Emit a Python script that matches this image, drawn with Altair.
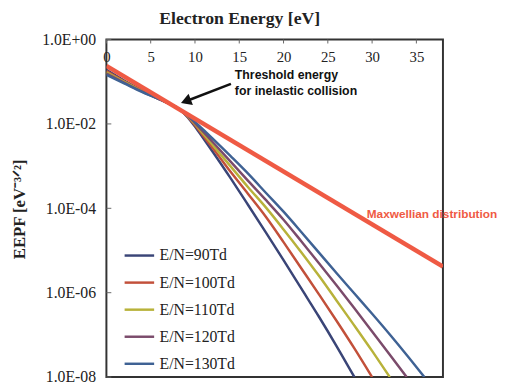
import altair as alt
import pandas as pd

# ---------------- data ----------------
series_names = ["E/N=90Td", "E/N=100Td", "E/N=110Td", "E/N=120Td", "E/N=130Td"]
series_colors = ["#3a4577", "#c2503a", "#b8b23a", "#7b4b6b", "#3f6294"]

energy_90 = [0, 2, 4, 6, 8, 9, 10, 11, 12, 14, 16, 18, 20, 22, 24, 26, 28]
eepf_90 = [0.191, 0.107, 0.0631, 0.0398, 0.0240, 0.0158, 0.00871, 0.00437, 0.00219,
           5.25e-4, 1.20e-4, 2.69e-5, 5.89e-6, 1.26e-6, 2.69e-7, 5.37e-8, 1.0e-8]

energy_100 = [0, 2, 4, 6, 8, 9, 10, 11, 12, 14, 16, 18, 20, 22, 24, 26, 28, 30]
eepf_100 = [0.178, 0.102, 0.0617, 0.0389, 0.0240, 0.0162, 0.00933, 0.00501, 0.00269,
            7.41e-4, 2.19e-4, 6.31e-5, 1.58e-5, 3.80e-6, 9.12e-7, 2.14e-7, 4.79e-8, 1.0e-8]

energy_110 = [0, 2, 4, 6, 8, 9, 10, 11, 12, 14, 16, 18, 20, 22, 24, 26, 28, 30, 32]
eepf_110 = [0.166, 0.100, 0.0603, 0.0389, 0.0240, 0.0166, 0.0100, 0.00562, 0.00316,
            1.0e-3, 3.16e-4, 1.05e-4, 3.16e-5, 9.12e-6, 2.51e-6, 6.46e-7, 1.66e-7, 4.17e-8, 1.0e-8]

energy_120 = [0, 2, 4, 6, 8, 9, 10, 11, 12, 14, 16, 18, 20, 22, 24, 26, 28, 30, 32, 33.9]
eepf_120 = [0.155, 0.0955, 0.0589, 0.0380, 0.0240, 0.0170, 0.0105, 0.00631, 0.00372,
            1.29e-3, 4.47e-4, 1.58e-4, 5.37e-5, 1.66e-5, 5.01e-6, 1.48e-6, 4.27e-7, 1.20e-7,
            3.39e-8, 1.0e-8]

energy_130 = [0, 2, 4, 6, 8, 9, 10, 11, 12, 14, 16, 18, 20, 22, 24, 26, 28, 30, 32, 34, 35.9]
eepf_130 = [0.145, 0.0912, 0.0575, 0.0380, 0.0240, 0.0174, 0.0112, 0.00708, 0.00447,
            1.74e-3, 6.61e-4, 2.34e-4, 8.32e-5, 2.75e-5, 8.91e-6, 2.88e-6, 9.55e-7, 3.16e-7,
            1.02e-7, 3.16e-8, 1.0e-8]

maxwell_energy = [0, 38]
maxwell_eepf = [0.237, 4.17e-6]
maxwell_label = "Maxwellian distribution"
maxwell_label_pos = [29.4, 7.2e-5]

threshold_lines = ["Threshold energy", "for inelastic collision"]
threshold_x = [14.5, 14.5]
threshold_y = [0.145, 0.059]
arrow_tail = [14.06, 0.089]
arrow_head = [8.97, 0.0345]

x_ticks = [0, 5, 10, 15, 20, 25, 30, 35]
y_ticks = [1, 1e-2, 1e-4, 1e-6, 1e-8]
y_tick_labels = ["1.0E+00", "1.0E-02", "1.0E-04", "1.0E-06", "1.0E-08"]

# ---------------- tables ----------------
rows = []
for name, es, vs in zip(series_names,
                        [energy_90, energy_100, energy_110, energy_120, energy_130],
                        [eepf_90, eepf_100, eepf_110, eepf_120, eepf_130]):
    for i, (e, v) in enumerate(zip(es, vs)):
        rows.append({"series": name, "energy": e, "eepf": v, "order": i})
curves_df = pd.DataFrame(rows)
maxwell_df = pd.DataFrame({"energy": maxwell_energy, "eepf": maxwell_eepf})

label_expr = ""
for v, lab in zip(y_ticks, y_tick_labels):
    label_expr += f"abs(log(datum.value) - log({v})) < 0.01 ? '{lab}' : "
label_expr += "''"

x_scale = alt.Scale(domain=[0, 38], nice=False, zero=False)
y_scale = alt.Scale(type="log", domain=[1e-8, 1], nice=False)

serif = "Liberation Serif"
sans = "Liberation Sans"

x_axis = alt.Axis(orient="top", values=x_ticks, title="Electron Energy [eV]",
                  titleFont=serif, titleFontSize=18, titleFontWeight="bold", titleColor="#222",
                  titleX=135, titleY=-21, titleAlign="center", titleBaseline="middle",
                  titleAnchor="start",
                  labelFont=serif, labelFontSize=15, labelColor="#222",
                  labelPadding=-17, labelBaseline="middle", labelFlush=False, labelOverlap=False,
                  ticks=False, tickSize=0, domain=False, grid=False)
y_axis = alt.Axis(values=y_ticks, labelExpr=label_expr, title="EEPF [eV⁻³ᐟ²]",
                  titleFont=serif, titleFontSize=17, titleFontWeight="bold", titleColor="#222",
                  titleX=-88, titleY=172, titleAlign="center", titleBaseline="middle",
                  titleAnchor="start",
                  labelFont=serif, labelFontSize=16, labelColor="#222",
                  labelPadding=11, labelFlush=False, labelOverlap=False,
                  ticks=False, tickSize=0, domain=False, grid=False)

curves = alt.Chart(curves_df).mark_line(strokeWidth=2.5, interpolate="monotone", clip=True).encode(
    x=alt.X("energy:Q", scale=x_scale, axis=x_axis),
    y=alt.Y("eepf:Q", scale=y_scale, axis=y_axis),
    color=alt.Color("series:N", scale=alt.Scale(domain=series_names, range=series_colors),
                    legend=alt.Legend(orient="none", legendX=17, legendY=203, title=None,
                                      symbolType="stroke", symbolSize=900, symbolStrokeWidth=2.5,
                                      labelFont=serif, labelFontSize=16, labelColor="#222",
                                      rowPadding=2.5, padding=0, labelOffset=4)),
    order="order:Q",
    detail="series:N",
)

maxwell = alt.Chart(maxwell_df).mark_line(strokeWidth=4.5, color="#ef5a44", clip=True).encode(
    x=alt.X("energy:Q", scale=x_scale),
    y=alt.Y("eepf:Q", scale=y_scale),
)

maxwell_text = alt.Chart(pd.DataFrame({"x": [maxwell_label_pos[0]], "y": [maxwell_label_pos[1]],
                                       "t": [maxwell_label]})).mark_text(
    align="left", baseline="middle", font=sans, fontSize=12, fontWeight="bold", color="#ef5a44"
).encode(x=alt.X("x:Q", scale=x_scale), y=alt.Y("y:Q", scale=y_scale), text="t:N")

thr_text = alt.Chart(pd.DataFrame({"x": threshold_x, "y": threshold_y, "t": threshold_lines})).mark_text(
    align="left", baseline="middle", font=sans, fontSize=12.5, fontWeight="bold", color="#111"
).encode(x=alt.X("x:Q", scale=x_scale), y=alt.Y("y:Q", scale=y_scale), text="t:N")

arrow_line = alt.Chart(pd.DataFrame({"x": [arrow_tail[0]], "y": [arrow_tail[1]],
                                     "x2": [arrow_head[0]], "y2": [arrow_head[1]]})).mark_rule(
    strokeWidth=2.5, color="#111"
).encode(x=alt.X("x:Q", scale=x_scale), y=alt.Y("y:Q", scale=y_scale), x2="x2:Q", y2="y2:Q")

arrow_tip = alt.Chart(pd.DataFrame({"x": [arrow_head[0]], "y": [arrow_head[1]]})).mark_point(
    shape="triangle-up", size=150, filled=True, color="#111", opacity=1, angle=249
).encode(x=alt.X("x:Q", scale=x_scale), y=alt.Y("y:Q", scale=y_scale))

y_tick_marks = alt.Chart(pd.DataFrame({"v": y_ticks})).mark_rule(color="#666", strokeWidth=1).encode(
    y=alt.Y("v:Q", scale=y_scale), x=alt.value(0), x2=alt.value(5)
)
x_tick_marks = alt.Chart(pd.DataFrame({"v": x_ticks})).mark_rule(color="#666", strokeWidth=1).encode(
    x=alt.X("v:Q", scale=x_scale), y=alt.value(0), y2=alt.value(4)
)

chart = alt.layer(
    y_tick_marks, x_tick_marks, curves, maxwell, maxwell_text, thr_text, arrow_line, arrow_tip
).properties(
    width=342, height=343,
    autosize=alt.AutoSizeParams(type="none"),
    padding={"left": 100, "top": 29, "right": 60, "bottom": 5},
    background="white",
).configure_view(stroke="#333", strokeWidth=2)

chart.save("out.html", embed_options={"renderer": "svg", "actions": False})
